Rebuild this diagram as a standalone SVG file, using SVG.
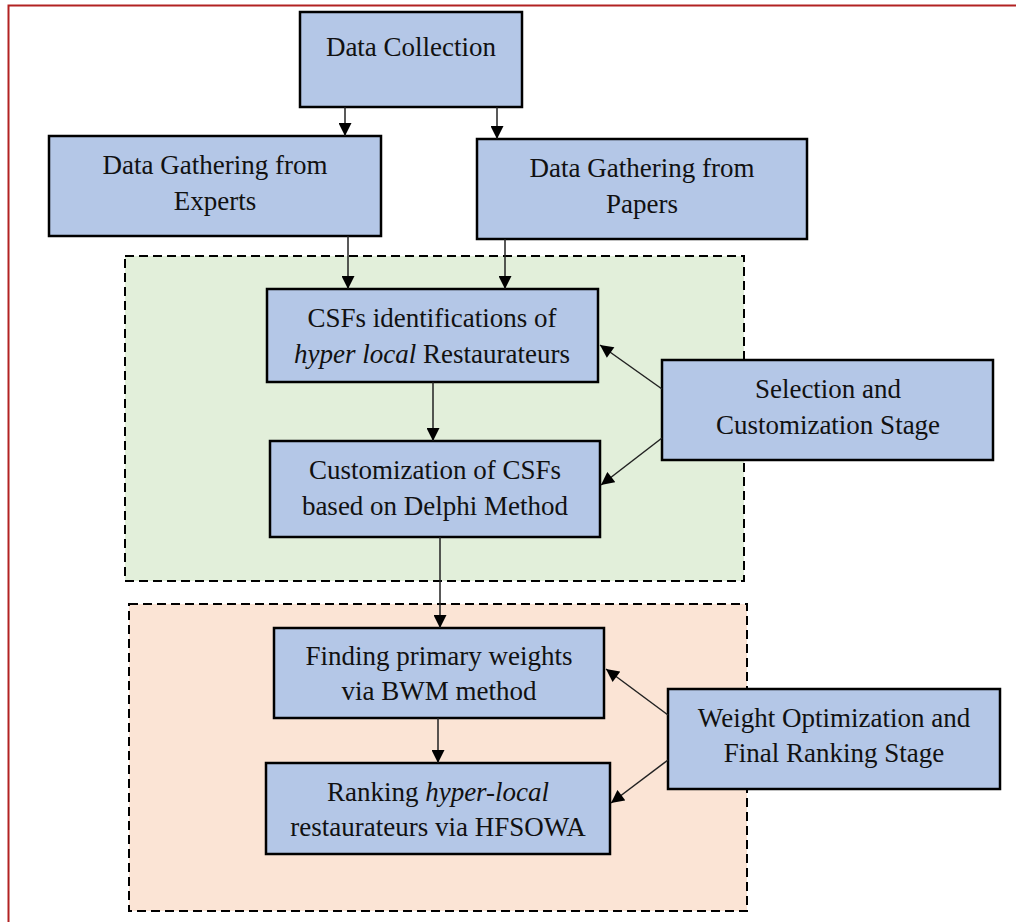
<svg xmlns="http://www.w3.org/2000/svg" width="1016" height="922" viewBox="0 0 1016 922">
<defs>
<style>
.box{fill:#b4c7e7;stroke:#000;stroke-width:2.5}
.t{font-family:"Liberation Serif","Times New Roman",serif;font-size:27px;fill:#111;text-anchor:middle}
.c{stroke:#222;stroke-width:1.5;fill:none;marker-end:url(#ah)}
</style>
<marker id="ah" viewBox="0 0 10 10" refX="10" refY="5" markerWidth="14" markerHeight="13" markerUnits="userSpaceOnUse" orient="auto">
<path d="M0,0 L10,5 L0,10 z" fill="#000"/>
</marker>
</defs>
<rect width="1016" height="922" fill="#fff"/>
<path d="M8.5,922 V5.5 H1016" fill="none" stroke="#b22222" stroke-width="2"/>
<g id="stage1">
<rect x="125" y="256" width="619" height="325" fill="#e2efda" stroke="#000" stroke-width="2" stroke-dasharray="9,5"/>
</g>
<g id="stage2">
<rect x="129" y="604" width="618" height="307" fill="#fbe4d5" stroke="#000" stroke-width="2" stroke-dasharray="9,5"/>
</g>
<g id="n1"><rect class="box" x="300" y="12" width="222" height="95"/><text class="t" x="411" y="56">Data Collection</text></g>
<g id="n2"><rect class="box" x="49" y="136" width="332" height="100"/><text class="t" x="215" y="174">Data Gathering from</text><text class="t" x="215" y="210">Experts</text></g>
<g id="n3"><rect class="box" x="477" y="139" width="330" height="100"/><text class="t" x="642" y="177">Data Gathering from</text><text class="t" x="642" y="213">Papers</text></g>
<g id="n4"><rect class="box" x="267" y="289" width="331" height="93"/><text class="t" x="432" y="327">CSFs identifications of</text><text class="t" x="432" y="363"><tspan font-style="italic">hyper local</tspan> Restaurateurs</text></g>
<g id="n5"><rect class="box" x="270" y="441" width="330" height="96"/><text class="t" x="435" y="479">Customization of CSFs</text><text class="t" x="435" y="515">based on Delphi Method</text></g>
<g id="n6"><rect class="box" x="662" y="360" width="331" height="100"/><text class="t" x="828" y="398">Selection and</text><text class="t" x="828" y="434">Customization Stage</text></g>
<g id="n7"><rect class="box" x="274" y="628" width="330" height="90"/><text class="t" x="439" y="665">Finding primary weights</text><text class="t" x="439" y="700">via BWM method</text></g>
<g id="n8"><rect class="box" x="266" y="763" width="344" height="91"/><text class="t" x="438" y="801">Ranking <tspan font-style="italic">hyper-local</tspan></text><text class="t" x="438" y="836">restaurateurs via HFSOWA</text></g>
<g id="n9"><rect class="box" x="668" y="689" width="332" height="100"/><text class="t" x="834" y="727">Weight Optimization and</text><text class="t" x="834" y="762">Final Ranking Stage</text></g>
<g id="connectors">
<line class="c" x1="345" y1="107" x2="345" y2="136"/>
<line class="c" x1="497" y1="107" x2="497" y2="139"/>
<line class="c" x1="348" y1="236" x2="348" y2="289"/>
<line class="c" x1="505" y1="239" x2="505" y2="289"/>
<line class="c" x1="433" y1="382" x2="433" y2="441"/>
<line class="c" x1="440" y1="537" x2="440" y2="628"/>
<line class="c" x1="438" y1="718" x2="438" y2="763"/>
<line class="c" x1="662" y1="389" x2="600" y2="345"/>
<line class="c" x1="662" y1="438" x2="601" y2="485"/>
<line class="c" x1="668" y1="715" x2="606" y2="669"/>
<line class="c" x1="668" y1="760" x2="611" y2="803"/>
</g>
</svg>
